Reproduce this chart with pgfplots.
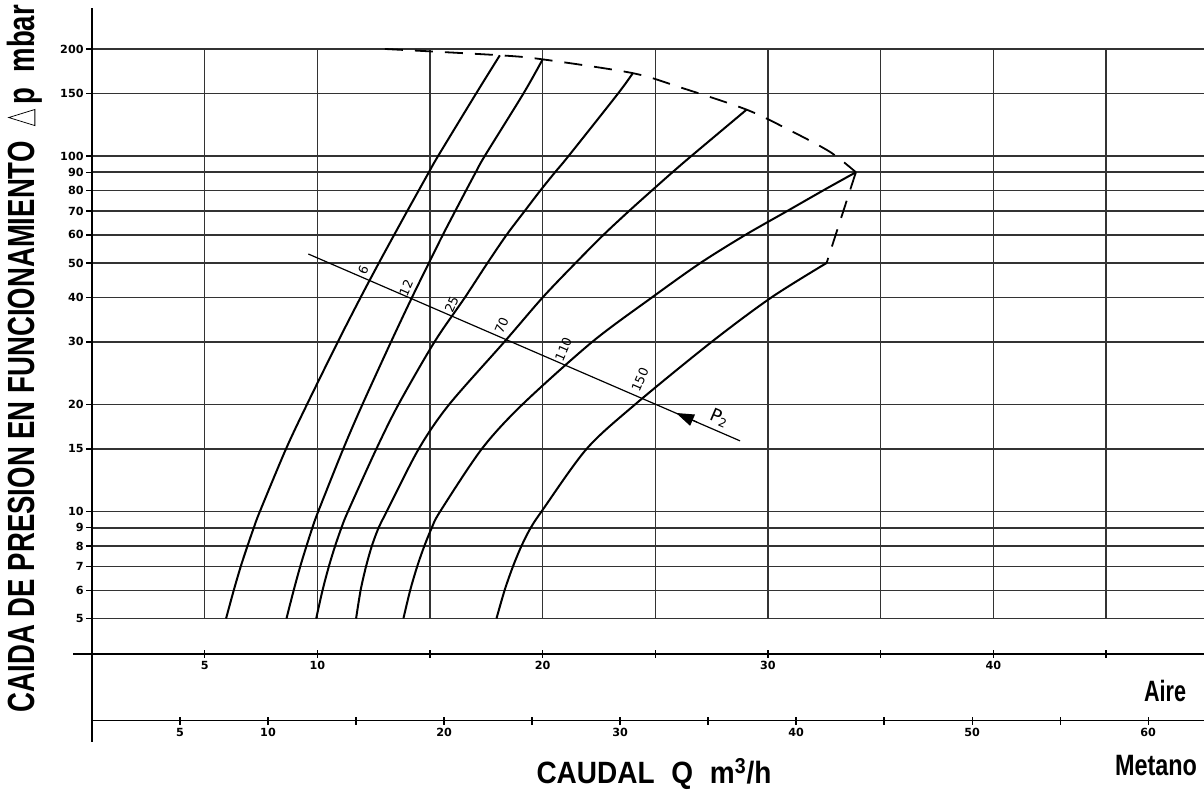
\documentclass[border=0pt]{standalone}
\usepackage{pgfplots}
\pgfplotsset{compat=1.18}
\usepackage{graphicx}
\usepackage{fontspec}
\setmainfont{Liberation Sans}
\newfontfamily\lab{Liberation Sans}
\newfontfamily\tickf{DejaVu Sans}
\usetikzlibrary{arrows.meta}
\newcommand\tk[1]{\mbox{\tickf\bfseries\fontsize{5.6pt}{6pt}\selectfont #1}}
\newcommand\nl[1]{\mbox{\tickf\fontsize{6.3pt}{7pt}\selectfont #1}}
\begin{document}
\begin{tikzpicture}
\useasboundingbox (0,0) rectangle (602pt,396pt);
\begin{axis}[
  at={(46pt,25pt)}, anchor=south west, scale only axis,
  width=556pt, height=367pt,
  xmin=0, xmax=49.35, ymode=log, ymin=2.247, ymax=260.8,
  axis x line=none, axis y line=left,
  axis line style={-, line width=0.9pt, black},
  xtick=\empty,
  ytick={5,6,7,8,9,10,15,20,30,40,50,60,70,80,90,100,150,200},
  yticklabels={\tk{5},\tk{6},\tk{7},\tk{8},\tk{9},\tk{10},\tk{15},\tk{20},\tk{30},\tk{40},\tk{50},\tk{60},\tk{70},\tk{80},\tk{90},\tk{100},\tk{150},\tk{200}},
  yminorticks=false,
  tick align=outside, major tick length=3pt,
  tick style={black, line width=0.7pt},
  yticklabel style={inner sep=1pt},
  ymajorgrids, grid style={black!80, line width=0.8pt},
  clip=false,
  every axis plot/.append style={black, line width=1pt},
]
\pgfplotsinvokeforeach{5,10,15,20,25,30,35,40,45}{
  \draw[black!80, line width=0.8pt] (axis cs:#1,5) -- (axis cs:#1,200);
}
% curves (P2 = 6, 12, 25, 70, 110, 150)
\addplot[smooth, tension=0.5] coordinates {(5.95,5)(6.29,6)(6.60,7)(6.90,8)(7.18,9)(7.45,10)(8.61,15)(9.54,20)(10.91,30)(11.92,40)(12.73,50)(13.41,60)(13.99,70)(14.50,80)(14.95,90)(15.36,100)(17.05,150)(18.1,192)};
\addplot[smooth, tension=0.5] coordinates {(8.63,5)(8.95,6)(9.24,7)(9.52,8)(9.78,9)(10.04,10)(11.15,15)(12.0,20)(13.27,30)(14.2,40)(14.95,50)(15.57,60)(16.12,70)(16.6,80)(17.03,90)(17.43,100)(19.15,150)(20.0,187)};
\addplot[smooth, tension=0.5] coordinates {(9.95,5)(10.23,6)(10.51,7)(10.79,8)(11.07,9)(11.36,10)(12.62,15)(13.6,20)(15.2,30)(16.55,40)(17.55,50)(18.4,60)(19.2,70)(19.9,80)(20.55,90)(21.15,100)(23.35,150)(24.0,171)};
\addplot[smooth, tension=0.5] coordinates {(11.72,5)(11.92,6)(12.16,7)(12.42,8)(12.72,9)(13.08,10)(14.5,15)(15.85,20)(18.3,30)(20.0,40)(21.46,50)(22.7,60)(23.83,70)(24.85,80)(25.76,90)(26.6,100)(29.05,135)};
\addplot[smooth, tension=0.5] coordinates {(13.82,5)(14.12,6)(14.43,7)(14.75,8)(15.08,9)(15.45,10)(17.3,15)(19.1,20)(22.2,30)(24.85,40)(27.0,50)(29.0,60)(30.85,70)(32.45,80)(33.9,90)};
\addplot[smooth, tension=0.5] coordinates {(17.95,5)(18.31,6)(18.68,7)(19.06,8)(19.47,9)(19.95,10)(21.95,15)(24.1,20)(27.5,30)(30.15,40)(32.6,50)};
% dashed envelope
\addplot[smooth, tension=0.5, line width=0.9pt, dash pattern=on 9pt off 6pt] coordinates {(13.0,200)(18.1,192)(20.0,187)(24.0,171)(26.1,156)(29.05,135)(30.98,118)(32.76,102.6)(33.9,90)};
\addplot[line width=0.9pt, dash pattern=on 9pt off 6pt] coordinates {(33.9,90)(32.6,50)};
% P2 line
\addplot[line width=0.6pt] coordinates {(9.6,53.0)(28.76,15.8)};
\draw[line width=0.6pt, -{Triangle[length=9pt,width=6pt]}] (axis cs:26.85,17.84) -- (axis cs:25.92,18.93);
\node[rotate=66.6] at (axis cs:12.04,47.9) {\nl{6}};
\node[rotate=66.6] at (axis cs:13.94,42.5) {\nl{12}};
\node[rotate=66.6] at (axis cs:15.96,38.2) {\nl{25}};
\node[rotate=66.6] at (axis cs:18.18,33.4) {\nl{70}};
\node[rotate=66.6] at (axis cs:20.92,28.6) {\nl{110}};
\node[rotate=66.6] at (axis cs:24.32,23.5) {\nl{150}};
\node[rotate=-23.4] at (axis cs:27.85,18.3) {\mbox{\tickf\fontsize{9pt}{10pt}\selectfont P\textsubscript{2}}};
\end{axis}
% Aire scale
\begin{axis}[
  at={(36.5pt,69pt)}, anchor=south west, scale only axis,
  width=565.5pt, height=5pt,
  xmin=-0.843, xmax=49.35, ymin=0, ymax=1,
  axis x line=bottom, axis y line=none,
  axis line style={-, line width=0.8pt, black},
  xtick={5,10,15,20,25,30,35,40,45},
  xticklabels={\tk{5},\tk{10},,\tk{20},,\tk{30},,\tk{40},},
  ytick=\empty,
  tick align=center, major tick length=4pt,
  tick style={black, line width=0.7pt},
  xticklabel style={inner sep=1.5pt},
]
\end{axis}
% Metano scale
\begin{axis}[
  at={(46pt,35.65pt)}, anchor=south west, scale only axis,
  width=556pt, height=5pt,
  xmin=0, xmax=63.168, ymin=0, ymax=1,
  axis x line=bottom, axis y line=none,
  axis line style={-, line width=0.8pt, black},
  xtick={5,10,15,20,25,30,35,40,45,50,55,60},
  xticklabels={\tk{5},\tk{10},,\tk{20},,\tk{30},,\tk{40},,\tk{50},,\tk{60}},
  ytick=\empty,
  tick align=center, major tick length=4pt,
  tick style={black, line width=0.7pt},
  xticklabel style={inner sep=1.5pt},
]
\end{axis}
% titles
\node[rotate=90, inner sep=0pt] at (12.5pt,216.75pt) {\resizebox{353.5pt}{\height}{\lab\bfseries\fontsize{18.9pt}{20pt}\selectfont CAIDA\ DE\ PRESION\ EN\ FUNCIONAMIENTO\ \ \tikz[baseline=0pt]\draw[line width=0.5pt] (0,0)--(11pt,0)--(5.5pt,13pt)--cycle;\,p\ \ mbar}};
\node[inner sep=0pt] at (327pt,9pt) {\resizebox{117.5pt}{\height}{\lab\bfseries\fontsize{15.4pt}{16pt}\selectfont CAUDAL\hspace{0.6em}Q\hspace{0.6em}m\textsuperscript{3}/h}};
\node[inner sep=0pt] at (582.5pt,50.5pt) {\resizebox{21pt}{\height}{\lab\bfseries\fontsize{14.7pt}{15pt}\selectfont Aire}};
\node[inner sep=0pt] at (578pt,13pt) {\resizebox{41pt}{\height}{\lab\bfseries\fontsize{14.7pt}{15pt}\selectfont Metano}};
\end{tikzpicture}
\end{document}
